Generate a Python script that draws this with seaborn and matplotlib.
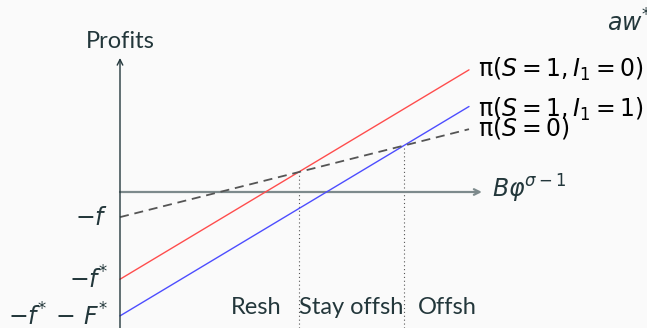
import numpy as np
import pandas as pd
import matplotlib
matplotlib.use("Agg")
import matplotlib.pyplot as plt
import seaborn as sns

# ---- data (conceptual units) ----
x_vals = [0, 10]
profit_s1_i0 = [-2.5, 3.5]     # pi(S=1, I1=0)  red
profit_s1_i1 = [-3.55, 2.45]   # pi(S=1, I1=1)  blue
profit_s0 = [-0.72, 1.8]       # pi(S=0)        dashed
series_names = ["s1i0", "s1i1", "s0"]
series_labels = [r"$\mathrm{\pi}(S=1, I_1=0)$", r"$\mathrm{\pi}(S=1, I_1=1)$", r"$\mathrm{\pi}(S=0)$"]
intercept_labels = [r"$-f^{*}$", r"$-f^{*}\,-\,F^{*}$", r"$-f$"]
region_labels = ["Resh", "Stay offsh", "Offsh"]
y_label = "Profits"
x_label = r"$B\varphi^{\sigma-1}$"
corner_text = r"$aw^{*}$"

TEXT = "#23373b"
BG = "#fafafa"
sns.set_theme(style="white")
plt.rcParams["font.family"] = ["Lato", "DejaVu Sans"]
plt.rcParams["mathtext.fontset"] = "dejavusans"

df_solid = pd.DataFrame({
    "x": x_vals * 2,
    "y": profit_s1_i0 + profit_s1_i1,
    "series": sum([[n] * len(x_vals) for n in series_names[:2]], []),
})
df_dash = pd.DataFrame({"x": x_vals, "y": profit_s0})

fig = plt.figure(figsize=(6.47, 3.28), dpi=100, facecolor=BG)
ax = fig.add_axes([0, 0, 1, 1])
ax.set_facecolor(BG)
u = 34.9  # px per unit
ax.set_xlim(-120 / u, 527 / u)
ax.set_ylim((192 - 328) / u, 192 / u)
ax.axis("off")

palette = {"s1i0": "#ff4d4d", "s1i1": "#4d4dff"}
sns.lineplot(data=df_solid, x="x", y="y", hue="series", palette=palette,
             linewidth=1.0, legend=False, ax=ax, zorder=3)
sns.lineplot(data=df_dash, x="x", y="y", color="#555555", linewidth=1.3,
             dashes=False, ax=ax, zorder=3, linestyle=(0, (5, 3.2)))

# axes arrows
ymin = ax.get_ylim()[0]
ax.annotate("", xy=(0, 3.84), xytext=(0, ymin), zorder=4,
            arrowprops=dict(arrowstyle="->", color=TEXT, lw=1.0,
                            shrinkA=0, shrinkB=0, mutation_scale=10))
ax.annotate("", xy=(10.37, 0), xytext=(0, 0), zorder=2,
            arrowprops=dict(arrowstyle="->", color="#7d8a8c", lw=1.6,
                            shrinkA=0, shrinkB=0, mutation_scale=10))

# cutoffs (intersections)
def line(vals):
    s = (vals[1] - vals[0]) / (x_vals[1] - x_vals[0])
    return s, vals[0] - s * x_vals[0]
s_r, b_r = line(profit_s1_i0)
s_b, b_b = line(profit_s1_i1)
s_d, b_d = line(profit_s0)
c1 = (b_d - b_r) / (s_r - s_d)
c2 = (b_d - b_b) / (s_b - s_d)
for c in (c1, c2):
    ax.plot([c, c], [ymin, b_d + s_d * c], color="#555555", lw=0.8,
            linestyle=(0, (1, 2.5)), zorder=1)

fs = 17
# labels at line ends
ends = [profit_s1_i0[-1], profit_s1_i1[-1], profit_s0[-1]]
offs = [0.0, -0.08, 0.02]
for lab, e, o in zip(series_labels, ends, offs):
    ax.text(10.26, e + o, lab, fontsize=fs, color="black", ha="left", va="center")

# intercept labels
starts = [profit_s1_i0[0], profit_s1_i1[0], profit_s0[0]]
for lab, s in zip(intercept_labels, starts):
    ax.text(-0.34, s, lab, fontsize=fs, color=TEXT, ha="right", va="center")

# region labels
ry = -3.3
ax.text(c1 - 1.2, ry, region_labels[0], fontsize=fs, color=TEXT, ha="center", va="center")
ax.text((c1 + c2) / 2, ry, region_labels[1], fontsize=fs, color=TEXT, ha="center", va="center")
ax.text(c2 + 1.25, ry, region_labels[2], fontsize=fs, color=TEXT, ha="center", va="center")

ax.text(0, 4.3, y_label, fontsize=fs, color=TEXT, ha="center", va="center")
ax.text(10.66, 0.08, x_label, fontsize=fs, color=TEXT, ha="left", va="center")
ax.text(13.95, 4.87, corner_text, fontsize=fs, color=TEXT, ha="left", va="center")

fig.savefig("out.png", dpi=100, facecolor=BG)
